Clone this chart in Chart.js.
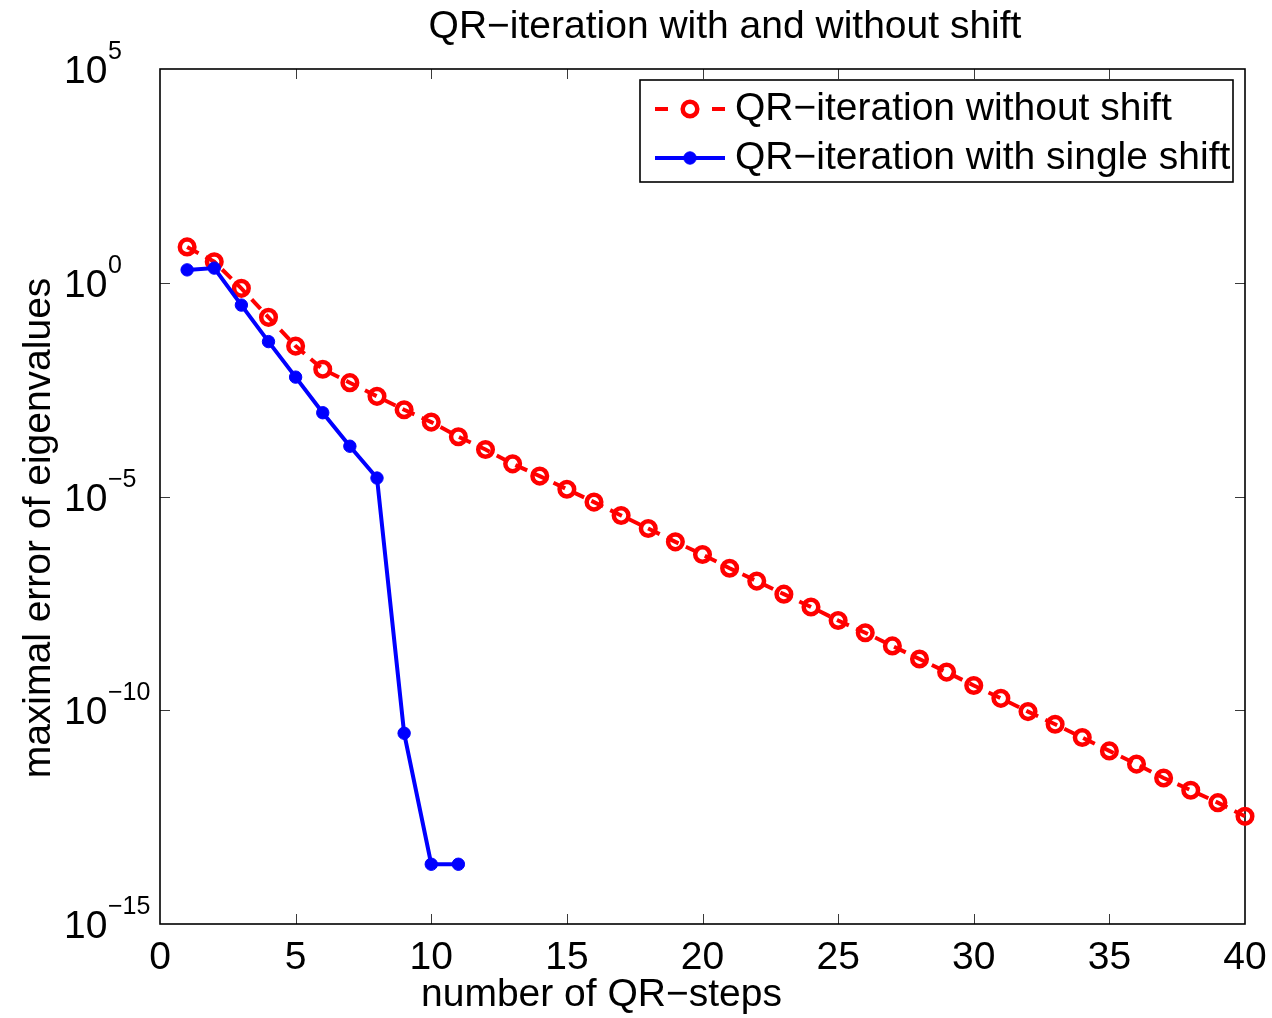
<!DOCTYPE html>
<html><head><meta charset="utf-8">
<script src="https://cdn.jsdelivr.net/npm/chart.js@4.4.1/dist/chart.umd.min.js"></script>
<style>html,body{margin:0;padding:0;background:#fff;} canvas{display:block;}</style>
</head><body>
<canvas id="c" width="1272" height="1018"></canvas>
<script>
const titleText = 'QR\u2212iteration with and without shift';
const xAxisTitle = 'number of QR\u2212steps';
const yAxisTitle = 'maximal error of eigenvalues';
const labelNoShift = 'QR\u2212iteration without shift';
const labelShift = 'QR\u2212iteration with single shift';

const stepsNoShift = [1,2,3,4,5,6,7,8,9,10,11,12,13,14,15,16,17,18,19,20,21,22,23,24,25,26,27,28,29,30,31,32,33,34,35,36,37,38,39,40];
const errNoShift = [6.9, 3.1, 0.74, 0.155, 0.033, 9.5e-3, 4.6e-3, 2.2e-3, 1.07e-3, 5.5e-4,
  2.5e-4, 1.26e-4, 5.8e-5, 3.0e-5, 1.48e-5, 7.4e-6, 3.6e-6, 1.78e-6, 8.7e-7, 4.4e-7,
  2.1e-7, 1.05e-7, 5.2e-8, 2.6e-8, 1.26e-8, 6.5e-9, 3.2e-9, 1.58e-9, 7.8e-10, 3.8e-10,
  1.9e-10, 9.3e-11, 4.7e-11, 2.3e-11, 1.12e-11, 5.5e-12, 2.6e-12, 1.35e-12, 6.9e-13, 3.3e-13];
const stepsShift = [1,2,3,4,5,6,7,8,9,10,11];
const errShift = [2.0, 2.2, 0.30, 0.042, 6.2e-3, 9.1e-4, 1.5e-4, 2.7e-5, 2.9e-11, 2.5e-14, 2.5e-14];

const xTicks = [0,5,10,15,20,25,30,35,40];
const yTicks = [1e5, 1, 1e-5, 1e-10, 1e-15];
const yTickBase = ['10','10','10','10','10'];
const yTickExp = ['5','0','\u22125','\u221210','\u221215'];

const FONT = "'Liberation Sans', Arial, Helvetica, sans-serif";
const FS = 39;

const matlabPlugin = {
  id: 'matlab',
  beforeDatasetsDraw(chart) {
    const {ctx, chartArea: a, scales: {x, y}} = chart;
    ctx.save();
    ctx.strokeStyle = '#3a3a3a';
    ctx.lineWidth = 1;
    const L = 10;
    xTicks.forEach((v, i) => {
      if (i === 0 || i === xTicks.length - 1) return;
      const px = Math.round(x.getPixelForValue(v)) + 0.5;
      ctx.beginPath();
      ctx.moveTo(px, a.bottom); ctx.lineTo(px, a.bottom - L);
      ctx.moveTo(px, a.top); ctx.lineTo(px, a.top + L);
      ctx.stroke();
    });
    yTicks.forEach((v, i) => {
      if (i === 0 || i === yTicks.length - 1) return;
      const py = Math.round(y.getPixelForValue(v)) + 0.5;
      ctx.beginPath();
      ctx.moveTo(a.left, py); ctx.lineTo(a.left + L, py);
      ctx.moveTo(a.right, py); ctx.lineTo(a.right - L, py);
      ctx.stroke();
    });
    ctx.strokeStyle = '#000';
    ctx.lineWidth = 1.6;
    ctx.strokeRect(a.left, a.top, a.right - a.left, a.bottom - a.top);
    ctx.restore();
  },
  afterDraw(chart) {
    const {ctx, chartArea: a, scales: {y}} = chart;
    ctx.save();
    ctx.fillStyle = '#000';
    // title
    ctx.font = FS + 'px ' + FONT;
    ctx.textAlign = 'center';
    ctx.textBaseline = 'middle';
    ctx.fillText(titleText, 725, 27.5);
    // x axis title
    ctx.fillText(xAxisTitle, 601.5, 995);
    // y tick labels with superscript exponents
    yTicks.forEach((v, i) => {
      const py = y.getPixelForValue(v);
      ctx.font = FS + 'px ' + FONT;
      ctx.textAlign = 'left';
      ctx.textBaseline = 'alphabetic';
      ctx.fillText(yTickBase[i], 64, py + 14);
      ctx.font = '25px ' + FONT;
      ctx.fillText(yTickExp[i], 108, py - 10);
    });
    // y axis title
    ctx.save();
    ctx.translate(38.8, 528);
    ctx.rotate(-Math.PI / 2);
    ctx.font = FS + 'px ' + FONT;
    ctx.textAlign = 'center';
    ctx.textBaseline = 'middle';
    ctx.fillText(yAxisTitle, 0, 0);
    ctx.restore();
    // legend
    const ds = chart.data.datasets;
    const boxL = 640, boxT = 80, boxR = 1233, boxB = 182;
    ctx.fillStyle = '#fff';
    ctx.fillRect(boxL, boxT, boxR - boxL, boxB - boxT);
    ctx.strokeStyle = '#000';
    ctx.lineWidth = 1.6;
    ctx.strokeRect(boxL, boxT, boxR - boxL, boxB - boxT);
    const rows = [109, 158];
    ds.forEach((d, i) => {
      const ry = rows[i];
      ctx.save();
      ctx.strokeStyle = d.borderColor;
      ctx.lineWidth = d.borderWidth;
      if (d.borderDash) ctx.setLineDash([13, 44]);
      ctx.beginPath();
      ctx.moveTo(655, ry); ctx.lineTo(725, ry);
      ctx.stroke();
      ctx.setLineDash([]);
      ctx.beginPath();
      ctx.arc(690, ry, d.pointRadius, 0, Math.PI * 2);
      if (d.pointBackgroundColor !== 'rgba(0,0,0,0)') {
        ctx.fillStyle = d.pointBackgroundColor;
        ctx.fill();
      }
      ctx.lineWidth = d.pointBorderWidth;
      ctx.strokeStyle = d.pointBorderColor;
      ctx.stroke();
      ctx.restore();
      ctx.fillStyle = '#000';
      ctx.font = FS + 'px ' + FONT;
      ctx.textAlign = 'left';
      ctx.textBaseline = 'middle';
      ctx.fillText(d.label, 735, ry);
    });
    ctx.restore();
  }
};

const redPoints = stepsNoShift.map((s, i) => ({x: s, y: errNoShift[i]}));
const bluePoints = stepsShift.map((s, i) => ({x: s, y: errShift[i]}));

new Chart(document.getElementById('c'), {
  type: 'line',
  data: {
    datasets: [
      {
        label: labelNoShift,
        data: redPoints,
        borderColor: '#ff0000',
        borderWidth: 4,
        borderDash: [13, 8],
        pointRadius: 7.3,
        pointBorderWidth: 4.5,
        pointBorderColor: '#ff0000',
        pointBackgroundColor: 'rgba(0,0,0,0)',
        tension: 0,
        clip: false,
        order: 1
      },
      {
        label: labelShift,
        data: bluePoints,
        borderColor: '#0000ff',
        borderWidth: 4,
        pointRadius: 6.2,
        pointBorderWidth: 1,
        pointBorderColor: '#0000ff',
        pointBackgroundColor: '#0000ff',
        tension: 0,
        clip: false,
        order: 0
      }
    ]
  },
  options: {
    responsive: false,
    animation: false,
    devicePixelRatio: 1,
    layout: {padding: {left: 0, right: 27, top: 69, bottom: 0}},
    plugins: {
      legend: {display: false},
      tooltip: {enabled: false},
      title: {display: false}
    },
    scales: {
      x: {
        type: 'linear',
        min: 0, max: 40,
        afterBuildTicks: (s) => { s.ticks = xTicks.map(v => ({value: v})); },
        afterFit: (s) => { s.height = 94; s.paddingLeft = 0; s.paddingRight = 0; },
        ticks: {
          autoSkip: false,
          maxRotation: 0,
          padding: 11,
          color: '#000',
          font: {family: FONT, size: FS},
          callback: (v) => String(v)
        },
        grid: {display: false, drawTicks: false},
        border: {display: false},
        title: {display: false}
      },
      y: {
        type: 'logarithmic',
        min: 1e-15, max: 1e5,
        afterBuildTicks: (s) => { s.ticks = yTicks.map(v => ({value: v})); },
        afterFit: (s) => { s.width = 160; },
        ticks: {display: false},
        grid: {display: false, drawTicks: false},
        border: {display: false}
      }
    }
  },
  plugins: [matlabPlugin]
});
</script>
</body></html>
